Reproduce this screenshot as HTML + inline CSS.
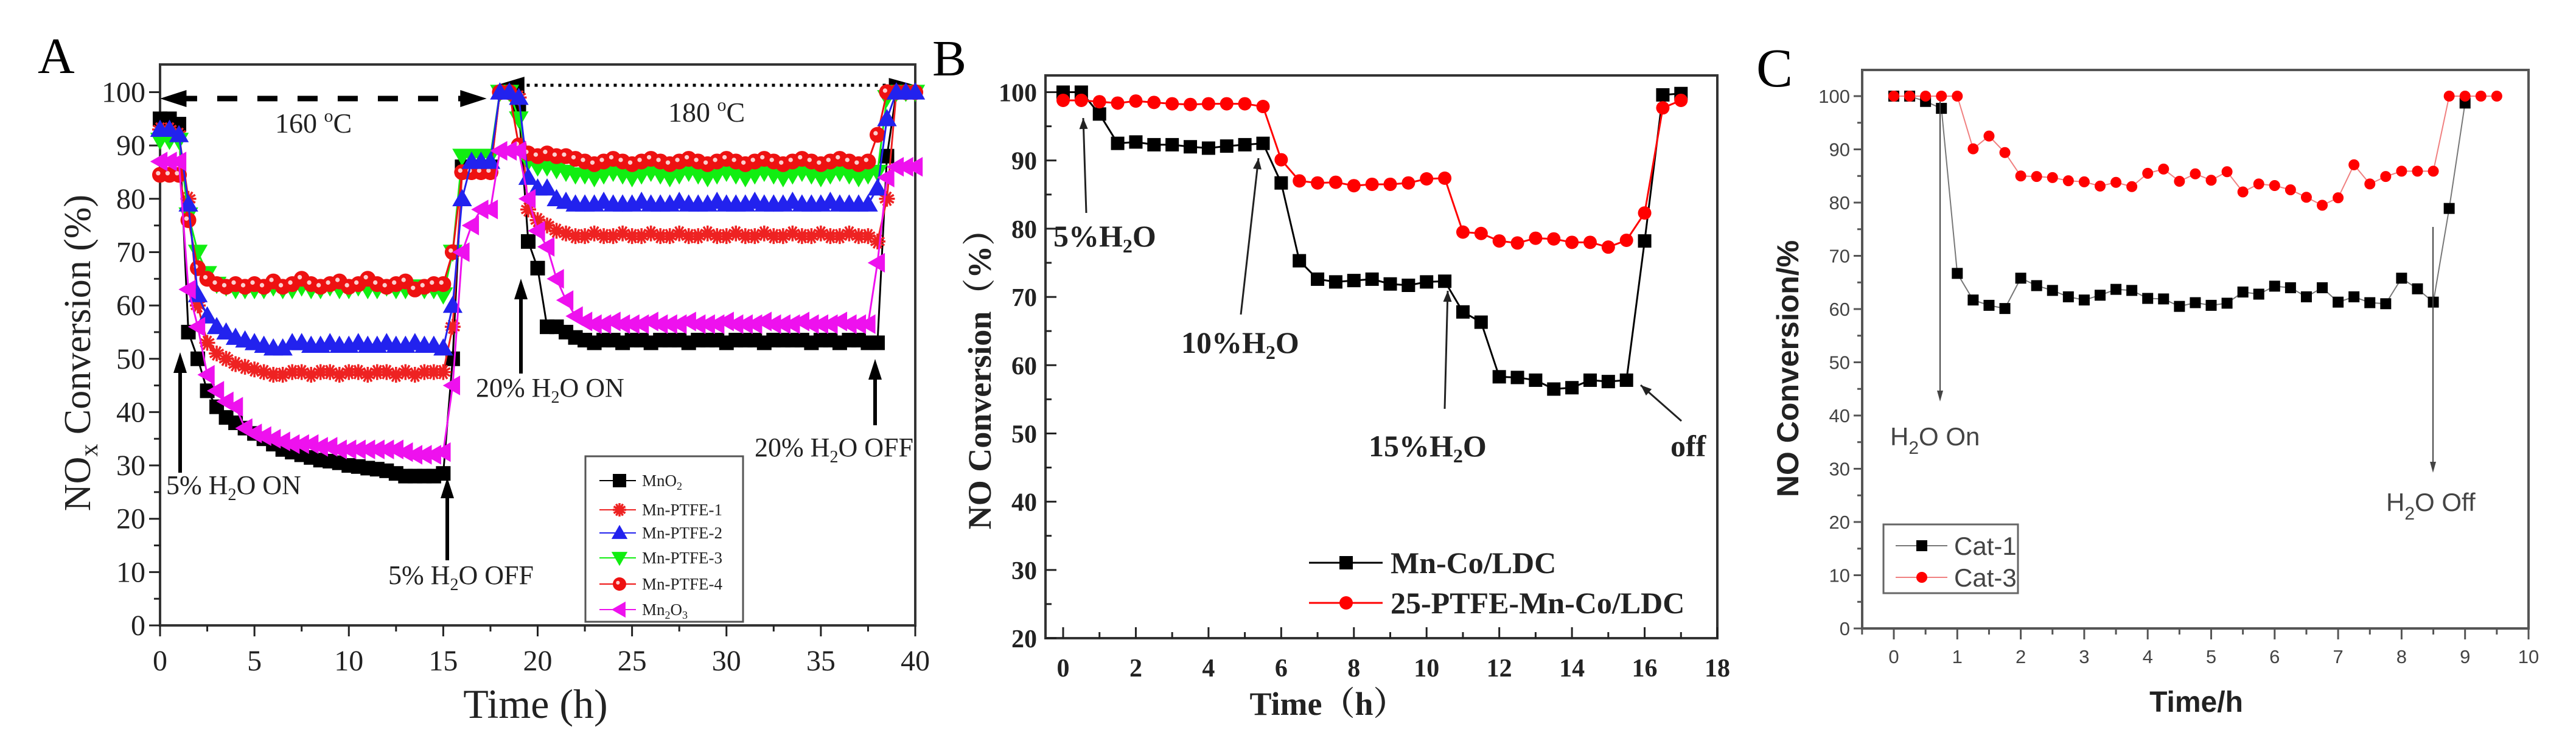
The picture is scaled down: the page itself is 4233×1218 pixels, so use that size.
<!DOCTYPE html>
<html><head><meta charset="utf-8"><style>
html,body{margin:0;padding:0;background:#fff;}
svg{display:block;}
</style></head><body>
<svg id="fig" width="4233" height="1218" viewBox="0 0 4233 1218" xmlns="http://www.w3.org/2000/svg">
<rect width="4233" height="1218" fill="#fff"/>
<text x="62" y="120" font-family="Liberation Serif, serif" font-size="84">A</text>
<text x="1532" y="124" font-family="Liberation Serif, serif" font-size="84">B</text>
<text x="2886" y="142" font-family="Liberation Serif, serif" font-size="90">C</text>
<g id="pa"></g>
<g id="pb"></g>
<g id="pc"></g>
</svg>
<script>
// ---------------- Panel A data ----------------
const aSeriesNames = ["MnO2","Mn-PTFE-1","Mn-PTFE-2","Mn-PTFE-3","Mn-PTFE-4","Mn2O3"];
const aMnO2 = [95,95,94,55,50,44,41,39,38,37,36,35,34,33,32.5,32,31.5,31,30.8,30.5,30,29.8,29.5,29.3,29,28.5,28,28,28,28,28.5,
 50,86,86,86,86,100,100,97,
 72,67,56,56,55,54,
 53.5,53,53.5,53.5,53,53.5,53.5,53,53.5,53.5,53.5,53,53.5,53.5,53.5,53,53.5,53.5,53.5,53,53.5,53.5,53.5,53.5,53,53.5,53.5,53,53.5,53.5,53,
 53,88,100,100,100];
const aPTFE1 = [93,93,92,80,60,53,51,50,49,48.5,48,47.5,47,47,47.5,47.5,47,47.5,47.5,47,47.5,47.5,47,47.5,47.5,47,47.5,47,47.5,47.5,47.5,
 56,85,85,85,85,100,100,99,
 78,76,75,74,73.5,73,
 73,73.5,73,73,73.5,73,73,73.5,73,73,73.5,73,73,73.5,73,73,73.5,73,73,73.5,73,73,73.5,73,73,73.5,73,73,73.5,73,73,
 72,80,100,100,100];
const aPTFE2 = [93,93,92,79,62,58,56,55,54,53.5,53,52.5,52,52,53,53,52.5,52.5,53,52.5,52.5,53,52.5,52.5,53,52.5,52.5,53,52.5,52.5,52,
 60,80,87,87,87,100,100,99,
 84,82,82,80,79.5,79,
 79,79,79.5,79,79,79,79.5,79,79,79,79.5,79,79,79,79.5,79,79,79,79.5,79,79,79,79.5,79,79,79,79.5,79,79,79,79,
 82,95,100,100,100];
const aPTFE3 = [91,91,91,77,70,66,64,63.5,63,63,63,63,63.5,63,63,63.5,63,63,63.5,63,63,63.5,63,63,63.5,63,63,63.5,63,63,62,
 70,88,88,88,88,100,100,95,
 87,86,86,85.5,85,84.5,
 84.5,84,84.5,85,84.5,84,84.5,85,84.5,84,84.5,85,84.5,84,84.5,85,84.5,84,84.5,85,84.5,84,84.5,85,84.5,84,84.5,85,84.5,84,84.5,
 85,99,100,100,100];
const aPTFE4 = [84.5,84.5,84.5,76,67,65,64,63.5,64,63.5,64,63.5,64.5,63.5,64,65,64,63.5,64,64.5,63.5,64,65,64,63.5,64,64.5,63,63.5,64,64,
 70,85,85,85,85,100,100,90,
 88.5,88,88.5,88,88,87.5,
 87,86.5,87,87.5,87,86.5,87,87.5,87,86.5,87,87.5,87,86.5,87,87.5,87,86.5,87,87.5,87,86.5,87,87.5,87,86.5,87,87.5,87,86.5,87,
 92,100,100,100,100];
const aMn2O3 = [87,87,87,63,56,47,44,42,41,37,36,35.5,35,34.5,34,34,34,33.5,33.5,33,33,33,33,33,33,33,32.5,32,32,32,32.5,
 45,70,75,78,78,89,89,89,
 80,74,71,65,61,58,
 57,56.5,56.5,57,56.5,56.5,56.5,57,56.5,56.5,56.5,57,56.5,56.5,56.5,57,56.5,56.5,56.5,57,56.5,56.5,56.5,57,56.5,56.5,56.5,57,56.5,56.5,56.5,
 68,84,86,86,86];
const aTimeStep = 0.5;
const aYTicks = [0,10,20,30,40,50,60,70,80,90,100];
const aXTicks = [0,5,10,15,20,25,30,35,40];

// ---------------- Panel B data ----------------
const bTimes = [0,0.5,1,1.5,2,2.5,3,3.5,4,4.5,5,5.5,6,6.5,7,7.5,8,8.5,9,9.5,10,10.5,11,11.5,12,12.5,13,13.5,14,14.5,15,15.5,16,16.5,17];
const bMnCo = [100,100,96.8,92.5,92.7,92.3,92.3,92,91.8,92.1,92.3,92.5,86.7,75.3,72.6,72.2,72.4,72.6,71.9,71.7,72.2,72.3,67.8,66.3,58.3,58.2,57.8,56.5,56.7,57.8,57.6,57.8,78.2,99.6,99.8];
const bPTFE = [98.8,98.8,98.6,98.4,98.7,98.5,98.3,98.2,98.3,98.3,98.3,97.9,90.1,87.0,86.7,86.8,86.3,86.5,86.5,86.7,87.3,87.4,79.5,79.3,78.2,77.9,78.6,78.5,78.0,78.0,77.3,78.3,82.3,97.7,98.8];
const bYTicks = [20,30,40,50,60,70,80,90,100];
const bXTicks = [0,2,4,6,8,10,12,14,16,18];

// ---------------- Panel C data ----------------
const cTimes1 = [0,0.25,0.5,0.75,1,1.25,1.5,1.75,2,2.25,2.5,2.75,3,3.25,3.5,3.75,4,4.25,4.5,4.75,5,5.25,5.5,5.75,6,6.25,6.5,6.75,7,7.25,7.5,7.75,8,8.25,8.5,8.75,9];
const cCat1 = [100,100,99,97.7,66.7,61.7,60.7,60.1,65.8,64.4,63.5,62.3,61.7,62.6,63.7,63.5,62,61.9,60.5,61.2,60.7,61.1,63.2,62.8,64.3,64,62.3,64,61.3,62.3,61.2,61,65.8,63.8,61.3,78.9,98.7];
const cTimes3 = [0,0.25,0.5,0.75,1,1.25,1.5,1.75,2,2.25,2.5,2.75,3,3.25,3.5,3.75,4,4.25,4.5,4.75,5,5.25,5.5,5.75,6,6.25,6.5,6.75,7,7.25,7.5,7.75,8,8.25,8.5,8.75,9,9.25,9.5];
const cCat3 = [100,100,100,100,100,90.1,92.5,89.4,85,84.9,84.7,84.1,83.9,83.1,83.8,83,85.5,86.3,84,85.4,84.2,85.8,82,83.5,83.2,82.4,81,79.5,80.9,87.1,83.5,84.9,85.9,85.9,85.9,100,100,100,100];
const cYTicks = [0,10,20,30,40,50,60,70,80,90,100];
const cXTicks = [0,1,2,3,4,5,6,7,8,9,10];

const NS = "http://www.w3.org/2000/svg";
function mk(tag, attrs, parent){
  const e = document.createElementNS(NS, tag);
  for (const k in attrs) e.setAttribute(k, attrs[k]);
  parent.appendChild(e);
  return e;
}
function marker(shape, x, y, s, color, parent){
  let e;
  if (shape === "square") {
    e = mk("rect", {x:x-s/2, y:y-s/2, width:s, height:s, fill:color}, parent);
  } else if (shape === "circle") {
    e = mk("circle", {cx:x, cy:y, r:s/2, fill:color}, parent);
  } else if (shape === "up") {
    e = mk("polygon", {points:`${x},${y-s*0.6} ${x-s*0.6},${y+s*0.45} ${x+s*0.6},${y+s*0.45}`, fill:color}, parent);
  } else if (shape === "down") {
    e = mk("polygon", {points:`${x},${y+s*0.6} ${x-s*0.6},${y-s*0.45} ${x+s*0.6},${y-s*0.45}`, fill:color}, parent);
  } else if (shape === "left") {
    e = mk("polygon", {points:`${x-s*0.6},${y} ${x+s*0.45},${y-s*0.6} ${x+s*0.45},${y+s*0.6}`, fill:color}, parent);
  } else if (shape === "star") {
    const r = s/2;
    let d = "";
    for (let k = 0; k < 6; k++) { const a = k*Math.PI/6; d += `M${x-r*Math.cos(a)},${y-r*Math.sin(a)}L${x+r*Math.cos(a)},${y+r*Math.sin(a)}`; }
    e = mk("path", {d:d, stroke:color, "stroke-width":3.5, fill:"none"}, parent);
  } else if (shape === "ball") {
    e = mk("g", {}, parent);
    mk("circle", {cx:x, cy:y, r:s/2, fill:color}, e);
    mk("circle", {cx:x-s*0.12, cy:y-s*0.1, r:s*0.14, fill:"#fff", opacity:0.8}, e);
  }
  return e;
}
function txt(parent, x, y, str, attrs){
  const t = mk("text", Object.assign({x:x, y:y}, attrs), parent);
  t.textContent = str;
  return t;
}

// ================= PANEL A =================
(function(){
  const g = document.getElementById("pa");
  const X0 = 263, X1 = 1504, Y0 = 1028, YTOP = 106;
  const xA = t => X0 + t*(X1-X0)/40;
  const yA = v => Y0 - v*(Y0-151.5)/100;
  const font = {"font-family":"Liberation Serif, serif", fill:"#222"};
  const frame = mk("rect", {x:X0, y:YTOP, width:X1-X0, height:Y0-YTOP, fill:"none", stroke:"#333", "stroke-width":4}, g);
  
  
  for (let v = 0; v <= 100; v += 5) {
    const major = v % 10 === 0;
    mk("line", {x1:X0-(major?18:10), x2:X0, y1:yA(v), y2:yA(v), stroke:"#222", "stroke-width":3}, g);
  }
  aYTicks.forEach(v => {
    const t = txt(g, X0-24, yA(v)+16, String(v), Object.assign({"font-size":48, "text-anchor":"end"}, font));
    
    
  });
  for (let t = 0; t <= 40; t += 2.5) {
    const major = t % 5 === 0;
    mk("line", {x1:xA(t), x2:xA(t), y1:Y0, y2:Y0+(major?18:10), stroke:"#222", "stroke-width":3}, g);
  }
  aXTicks.forEach(t => {
    const l = txt(g, xA(t), 1102, String(t), Object.assign({"font-size":48, "text-anchor":"middle"}, font));
    
    
  });
  const xt = txt(g, 880, 1180, "Time (h)", Object.assign({"font-size":68, "text-anchor":"middle"}, font));
  
  
  const yt = mk("text", Object.assign({transform:"translate(148,580) rotate(-90)", "font-size":62, "text-anchor":"middle"}, font), g);
  yt.innerHTML = 'NO<tspan font-size="42" dy="12">x</tspan><tspan dy="-12"> Conversion (%)</tspan>';
  
  

  const dash = mk("line", {x1:xA(0.9), x2:xA(16.6), y1:yA(98.8), y2:yA(98.8), stroke:"#000", "stroke-width":9, "stroke-dasharray":"33 33"}, g);
  
  
  mk("polygon", {points:`${xA(0)},${yA(98.8)} ${xA(1.4)},${yA(98.8)-14} ${xA(1.4)},${yA(98.8)+14}`, fill:"#000"}, g);
  mk("polygon", {points:`${xA(17.3)},${yA(98.8)} ${xA(15.9)},${yA(98.8)-14} ${xA(15.9)},${yA(98.8)+14}`, fill:"#000"}, g);
  const dot = mk("line", {x1:xA(19), x2:xA(39), y1:yA(101.3), y2:yA(101.3), stroke:"#000", "stroke-width":5, "stroke-dasharray":"5 8"}, g);
  
  
  mk("polygon", {points:`${xA(17.8)},${yA(101.3)} ${xA(19.3)},${yA(101.3)-14} ${xA(19.3)},${yA(101.3)+14}`, fill:"#000"}, g);
  mk("polygon", {points:`${xA(40)},${yA(101.3)} ${xA(38.6)},${yA(101.3)-12} ${xA(38.6)},${yA(101.3)+12}`, fill:"#000"}, g);
  const t160 = mk("text", Object.assign({x:452, y:218, "font-size":46}, font), g);
  t160.innerHTML = '160 <tspan font-size="30" dy="-18">o</tspan><tspan dy="18">C</tspan>';
  
  
  const t180 = mk("text", Object.assign({x:1098, y:200, "font-size":46}, font), g);
  t180.innerHTML = '180 <tspan font-size="30" dy="-18">o</tspan><tspan dy="18">C</tspan>';
  
  

  const series = [
    {name:"MnO2", vals:aMnO2, shape:"square", color:"#000", s:24},
    {name:"Mn-PTFE-1", vals:aPTFE1, shape:"star", color:"#ee2222", s:26},
    {name:"Mn-PTFE-3", vals:aPTFE3, shape:"down", color:"#11ee11", s:27},
    {name:"Mn-PTFE-4", vals:aPTFE4, shape:"ball", color:"#ee1111", s:26},
    {name:"Mn-PTFE-2", vals:aPTFE2, shape:"up", color:"#2222ee", s:27},
    {name:"Mn2O3", vals:aMn2O3, shape:"left", color:"#ee11ee", s:27}
  ];
  series.forEach(sr => {
    const sg = mk("g", {}, g);
    
    
    const pts = sr.vals.map((v,i) => `${xA(i*aTimeStep)},${yA(v)}`).join(" ");
    mk("polyline", {points:pts, fill:"none", stroke:sr.color, "stroke-width":3}, sg);
    sr.vals.forEach((v,i) => {
      const m = marker(sr.shape, xA(i*aTimeStep), yA(v), sr.s, sr.color, sg);
      
      
    });
  });

  function arrow(x, y1, y2, name){
    const ag = mk("g", {}, g);
    
    
    mk("line", {x1:x, x2:x, y1:y1, y2:y2+20, stroke:"#000", "stroke-width":6}, ag);
    mk("polygon", {points:`${x},${y2} ${x-11},${y2+34} ${x+11},${y2+34}`, fill:"#000"}, ag);
  }
  arrow(296, 777, 579, 'arrow-5-on');
  arrow(735, 921, 785, 'arrow-5-off');
  arrow(856, 614, 458, 'arrow-20-on');
  arrow(1438, 699, 590, 'arrow-20-off');
  function ann(x, y, pre, post, name){
    const t = mk("text", Object.assign({x:x, y:y, "font-size":44}, font), g);
    t.innerHTML = pre + '<tspan font-size="28" dy="10">2</tspan><tspan dy="-10">' + post + '</tspan>';
    
    
  }
  ann(273, 812, "5% H", "O ON", 'label-5-on');
  ann(638, 960, "5% H", "O OFF", 'label-5-off');
  ann(782, 652, "20% H", "O ON", 'label-20-on');
  ann(1240, 750, "20% H", "O OFF", 'label-20-off');

  const lg = mk("g", {}, g);
  
  
  mk("rect", {x:962, y:750, width:259, height:272, fill:"#fff", stroke:"#555", "stroke-width":3}, lg);
  const legShapes = [["MnO","2","square","#000"],["Mn-PTFE-1","","star","#ee2222"],["Mn-PTFE-2","","up","#2222ee"],["Mn-PTFE-3","","down","#11ee11"],["Mn-PTFE-4","","ball","#ee1111"],["Mn","2O3","left","#ee11ee"]];
  const legY = [790,838,876,917,960,1002];
  legShapes.forEach((e,i) => {
    const eg = mk("g", {}, lg);
    
    
    mk("line", {x1:985, x2:1045, y1:legY[i], y2:legY[i], stroke:e[3], "stroke-width":2}, eg);
    marker(e[2], 1018, legY[i], 22, e[3], eg);
    const t = mk("text", Object.assign({x:1055, y:legY[i]+9, "font-size":27}, font), eg);
    if (e[0] === "MnO") t.innerHTML = 'MnO<tspan font-size="18" dy="6">2</tspan>';
    else if (e[0] === "Mn") t.innerHTML = 'Mn<tspan font-size="18" dy="6">2</tspan><tspan dy="-6">O</tspan><tspan font-size="18" dy="6">3</tspan>';
    else t.textContent = e[0];
  });
})();

// ================= PANEL B =================
(function(){
  const g = document.getElementById("pb");
  const L = 1718, R = 2822, T = 124, B = 1049;
  const xB = t => 1747 + t*(2822-1747)/18;
  const yB = v => 1049 - (v-20)*(1049-151.5)/80;
  const font = {"font-family":"Liberation Serif, serif", fill:"#222", "font-weight":"bold"};
  const frame = mk("rect", {x:L, y:T, width:R-L, height:B-T, fill:"none", stroke:"#333", "stroke-width":4}, g);
  
  
  for (let v = 20; v <= 100; v += 5) {
    const major = v % 10 === 0;
    mk("line", {x1:L, x2:L+(major?18:10), y1:yB(v), y2:yB(v), stroke:"#222", "stroke-width":3}, g);
  }
  bYTicks.forEach(v => {
    const t = txt(g, L-14, yB(v)+15, String(v), Object.assign({"font-size":42, "text-anchor":"end"}, font));
    
    
  });
  for (let t = 0; t <= 18; t += 1) {
    const major = t % 2 === 0;
    mk("line", {x1:xB(t), x2:xB(t), y1:B, y2:B-(major?18:10), stroke:"#222", "stroke-width":3}, g);
  }
  bXTicks.forEach(t => {
    const l = txt(g, xB(t), 1112, String(t), Object.assign({"font-size":42, "text-anchor":"middle"}, font));
    
    
  });
  const xt = txt(g, 2182, 1175, "Time（h）", {"font-size":54, "text-anchor":"middle", "font-family":"Liberation Serif, 'Noto Serif CJK SC', serif", fill:"#222", "font-weight":"bold"});
  
  
  const yt = txt(g, 0, 0, "NO Conversion（%）", {transform:"translate(1628,610) rotate(-90)", "font-size":54, "text-anchor":"middle", "font-family":"Liberation Serif, 'Noto Serif CJK SC', serif", fill:"#222", "font-weight":"bold"});
  
  

  const series = [
    {name:"mn-co-ldc", t:bTimes, v:bMnCo, shape:"square", color:"#000"},
    {name:"25-ptfe-mn-co-ldc", t:bTimes, v:bPTFE, shape:"circle", color:"#ff0000"}
  ];
  series.forEach(sr => {
    const sg = mk("g", {}, g);
    
    
    mk("polyline", {points:sr.v.map((v,i)=>`${xB(sr.t[i])},${yB(v)}`).join(" "), fill:"none", stroke:sr.color, "stroke-width":3}, sg);
    sr.v.forEach((v,i) => {
      const m = marker(sr.shape, xB(sr.t[i]), yB(v), 22, sr.color, sg);
      
      
    });
  });

  function arr(x1,y1,x2,y2,name){
    const ag = mk("g", {}, g);
    
    
    const a = Math.atan2(y2-y1, x2-x1), h = 18;
    mk("line", {x1:x1, y1:y1, x2:x2, y2:y2, stroke:"#222", "stroke-width":3}, ag);
    mk("polygon", {points:`${x2},${y2} ${x2-h*Math.cos(a)+7*Math.sin(a)},${y2-h*Math.sin(a)-7*Math.cos(a)} ${x2-h*Math.cos(a)-7*Math.sin(a)},${y2-h*Math.sin(a)+7*Math.cos(a)}`, fill:"#222"}, ag);
  }
  arr(1785,350,1780,194,'arrow-b-5');
  arr(2039,517,2068,260,'arrow-b-10');
  arr(2374,672,2379,478,'arrow-b-15');
  arr(2763,692,2696,633,'arrow-b-off');
  function ann(x,y,pre,post,name){
    const t = mk("text", Object.assign({x:x, y:y, "font-size":50}, font), g);
    t.innerHTML = pre + (post!==null ? '<tspan font-size="32" dy="10">2</tspan><tspan dy="-10">'+post+'</tspan>' : '');
    
    
  }
  ann(1731,405,"5%H","O",'label-b-5');
  ann(1941,580,"10%H","O",'label-b-10');
  ann(2249,750,"15%H","O",'label-b-15');
  ann(2745,750,"off",null,'label-b-off');

  const lg = mk("g", {}, g);
  
  
  [["Mn-Co/LDC","square","#000",925],["25-PTFE-Mn-Co/LDC","circle","#ff0000",991]].forEach(e => {
    const eg = mk("g", {}, lg);
    
    
    mk("line", {x1:2151, x2:2272, y1:e[3], y2:e[3], stroke:e[2], "stroke-width":3}, eg);
    marker(e[1], 2212, e[3], 22, e[2], eg);
    txt(eg, 2285, e[3]+17, e[0], Object.assign({"font-size":50}, font));
  });
})();

// ================= PANEL C =================
(function(){
  const g = document.getElementById("pc");
  const L = 3060, R = 4155, T = 115, B = 1033;
  const xC = t => 3112 + t*(4155-3112)/10;
  const yC = v => 1033 - v*(1033-158)/100;
  const font = {"font-family":"Liberation Sans, sans-serif", fill:"#444"};
  const frame = mk("rect", {x:L, y:T, width:R-L, height:B-T, fill:"none", stroke:"#555", "stroke-width":4}, g);
  
  
  for (let v = 0; v <= 100; v += 5) {
    const major = v % 10 === 0;
    mk("line", {x1:L-(major?14:8), x2:L, y1:yC(v), y2:yC(v), stroke:"#555", "stroke-width":3}, g);
  }
  cYTicks.forEach(v => {
    const t = txt(g, L-20, yC(v)+11, String(v), Object.assign({"font-size":31, "text-anchor":"end"}, font));
    
    
  });
  for (let t = -0.5; t <= 10; t += 0.5) {
    const major = Number.isInteger(t);
    mk("line", {x1:xC(t), x2:xC(t), y1:B, y2:B+(major?18:10), stroke:"#555", "stroke-width":3}, g);
  }
  cXTicks.forEach(t => {
    const l = txt(g, xC(t), 1090, String(t), Object.assign({"font-size":31, "text-anchor":"middle"}, font));
    
    
  });
  const xt = txt(g, 3609, 1170, "Time/h", {"font-size":48, "text-anchor":"middle", "font-family":"Liberation Sans, sans-serif", fill:"#222", "font-weight":"bold"});
  
  
  const yt = txt(g, 0, 0, "NO Conversion/%", {transform:"translate(2955,606) rotate(-90)", "font-size":50, "text-anchor":"middle", "font-family":"Liberation Sans, sans-serif", fill:"#222", "font-weight":"bold"});
  
  

  const series = [
    {name:"cat-1", t:cTimes1, v:cCat1, shape:"square", color:"#000", line:"#777"},
    {name:"cat-3", t:cTimes3, v:cCat3, shape:"circle", color:"#ff0000", line:"#f08080"}
  ];
  series.forEach(sr => {
    const sg = mk("g", {}, g);
    
    
    mk("polyline", {points:sr.v.map((v,i)=>`${xC(sr.t[i])},${yC(v)}`).join(" "), fill:"none", stroke:sr.line, "stroke-width":2}, sg);
    sr.v.forEach((v,i) => {
      const m = marker(sr.shape, xC(sr.t[i]), yC(v), 18, sr.color, sg);
      
      
    });
  });

  function arr(x,y1,y2,name){
    const ag = mk("g", {}, g);
    
    
    mk("line", {x1:x, x2:x, y1:y1, y2:y2-10, stroke:"#444", "stroke-width":2}, ag);
    mk("polygon", {points:`${x},${y2} ${x-5},${y2-18} ${x+5},${y2-18}`, fill:"#444"}, ag);
  }
  arr(3188,167,660,'arrow-c-on');
  arr(3998,373,777,'arrow-c-off');
  function ann(x,y,post,name){
    const t = mk("text", Object.assign({x:x, y:y, "font-size":42}, font), g);
    t.innerHTML = 'H<tspan font-size="30" dy="14">2</tspan><tspan dy="-14">' + post + '</tspan>';
    
    
  }
  ann(3106,732,"O On",'label-c-on');
  ann(3921,840,"O Off",'label-c-off');

  const lg = mk("g", {}, g);
  
  
  mk("rect", {x:3095, y:862, width:221, height:113, fill:"#fff", stroke:"#666", "stroke-width":3}, lg);
  [["Cat-1","square","#000","#777",897],["Cat-3","circle","#ff0000","#f08080",949]].forEach(e => {
    const eg = mk("g", {}, lg);
    
    
    mk("line", {x1:3115, x2:3200, y1:e[4], y2:e[4], stroke:e[3], "stroke-width":2}, eg);
    marker(e[1], 3158, e[4], 18, e[2], eg);
    txt(eg, 3211, e[4]+15, e[0], Object.assign({"font-size":42}, font));
  });
})();
</script>
</body></html>
